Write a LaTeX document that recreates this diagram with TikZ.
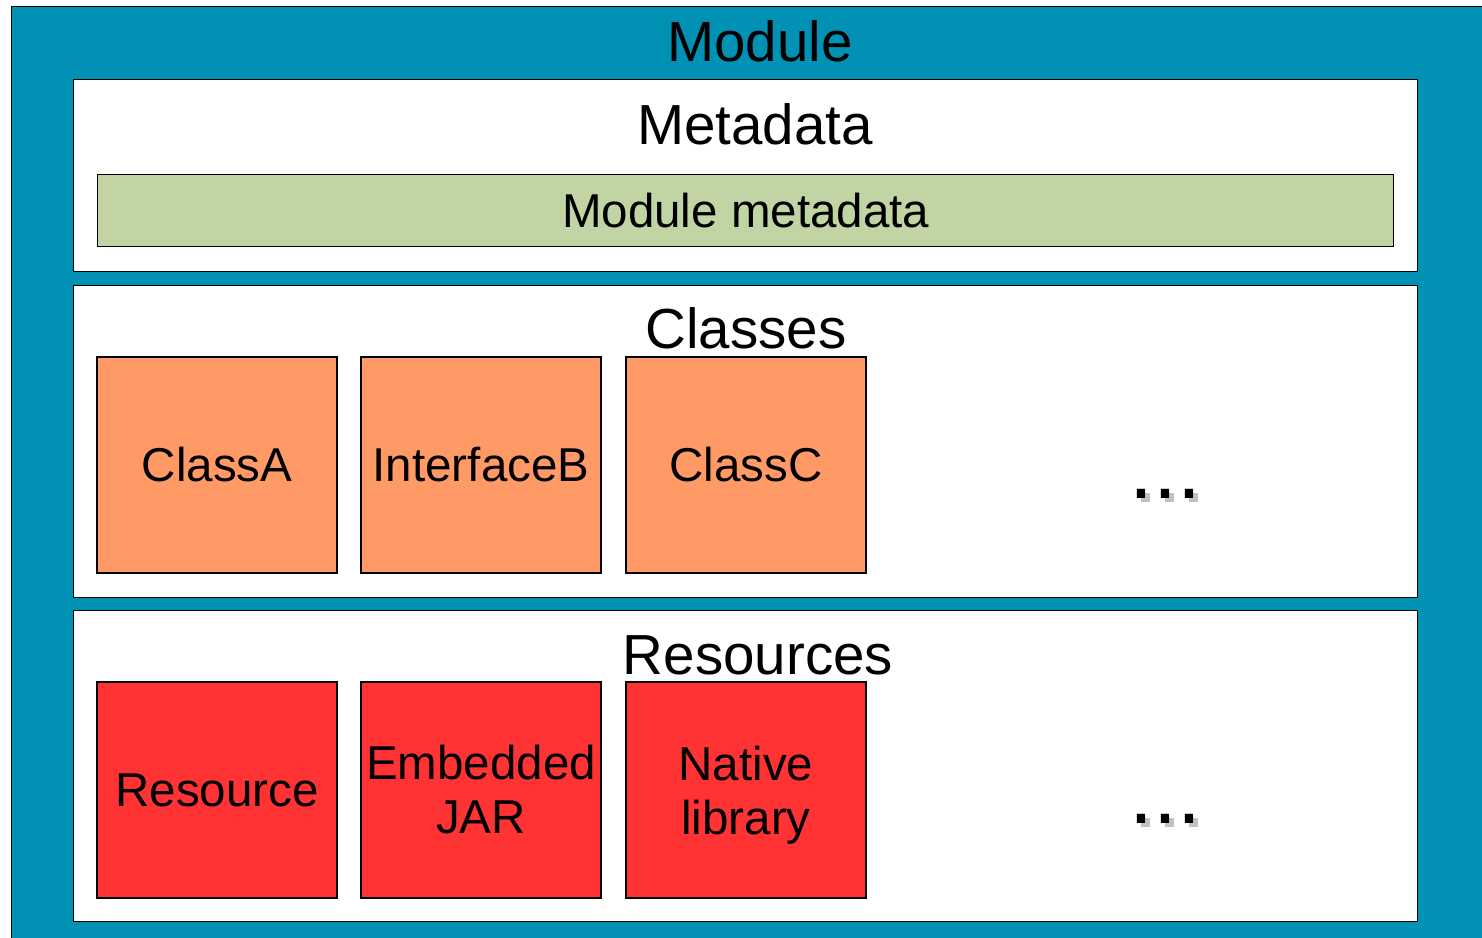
\documentclass[tikz,border=0pt]{standalone}
\usepackage{fontspec}
\setmainfont{Liberation Sans}
\definecolor{modblue}{RGB}{0,145,180}
\definecolor{metagreen}{RGB}{192,212,164}
\definecolor{classorange}{RGB}{255,153,102}
\definecolor{resred}{RGB}{255,51,51}
\definecolor{shade}{RGB}{195,195,195}
\tikzset{
  edge/.style={draw=black, line width=1.3pt},
  section/.style={edge, fill=white, rectangle, minimum width=1344pt, inner sep=0pt, anchor=north west},
  item/.style={edge, rectangle, minimum width=240pt, minimum height=216pt, inner sep=0pt,
    align=center, font=\fontsize{47.5}{54}\selectfont},
  title/.style={anchor=base, inner sep=0pt, font=\fontsize{56.5}{68}\selectfont},
  more/.style={anchor=base west, inner sep=0pt, font=\fontsize{86}{90}\selectfont},
  dotshadow/.style={fill=shade},
}
% grey drop shadow under the three dots of an ellipsis whose first dot starts at (#1,#2)
\newcommand{\dotshadows}[2]{%
  \foreach \k in {0,1,2}
    \fill[dotshadow] ({#1+4+24*\k},{#2+4}) rectangle ++(9,9);}
\begin{document}
\begin{tikzpicture}[x=1pt, y=-1pt]
\useasboundingbox (0,0) rectangle (1482,937);
\clip (0,0) rectangle (1482,937);
% outer module frame
\node[edge, fill=modblue, rectangle, inner sep=0pt, anchor=north west,
      minimum width=1500pt, minimum height=960pt] (module) at (11,6) {};
\node[title] (moduletitle) at (760,61) {Module};

% metadata section
\node[section, minimum height=192pt] (metadata) at (73,79) {};
\node[title] (metadatatitle) at (755,144) {Metadata};
\node[edge, fill=metagreen, rectangle, inner sep=0pt, anchor=north west,
      minimum width=1296pt, minimum height=72pt,
      font=\fontsize{47.5}{54}\selectfont] (modmeta) at (97,174) {Module metadata};

% classes section
\node[section, minimum height=312pt] (classes) at (73,285) {};
\node[title] (classestitle) at (746,348) {Classes};
\node[item, fill=classorange] (classA) at (217,465) {ClassA};
\node[item, fill=classorange] (ifaceB) at (481,465) {InterfaceB};
\node[item, fill=classorange] (classC) at (746,465) {ClassC};
\dotshadows{1137}{489}
\node[more] (classmore) at (1129,498) {...};

% resources section
\node[section, minimum height=311pt] (resources) at (73,610) {};
\node[title] (resourcestitle) at (758,674) {Resources};
\node[item, fill=resred] (res) at (217,790) {Resource};
\node[item, fill=resred] (jar) at (481,790) {Embedded\\JAR};
\node[item, fill=resred, text depth=0pt] (native) at (746,790) {Native\\library};
\dotshadows{1137}{814}
\node[more] (resmore) at (1129,823) {...};
\end{tikzpicture}
\end{document}
